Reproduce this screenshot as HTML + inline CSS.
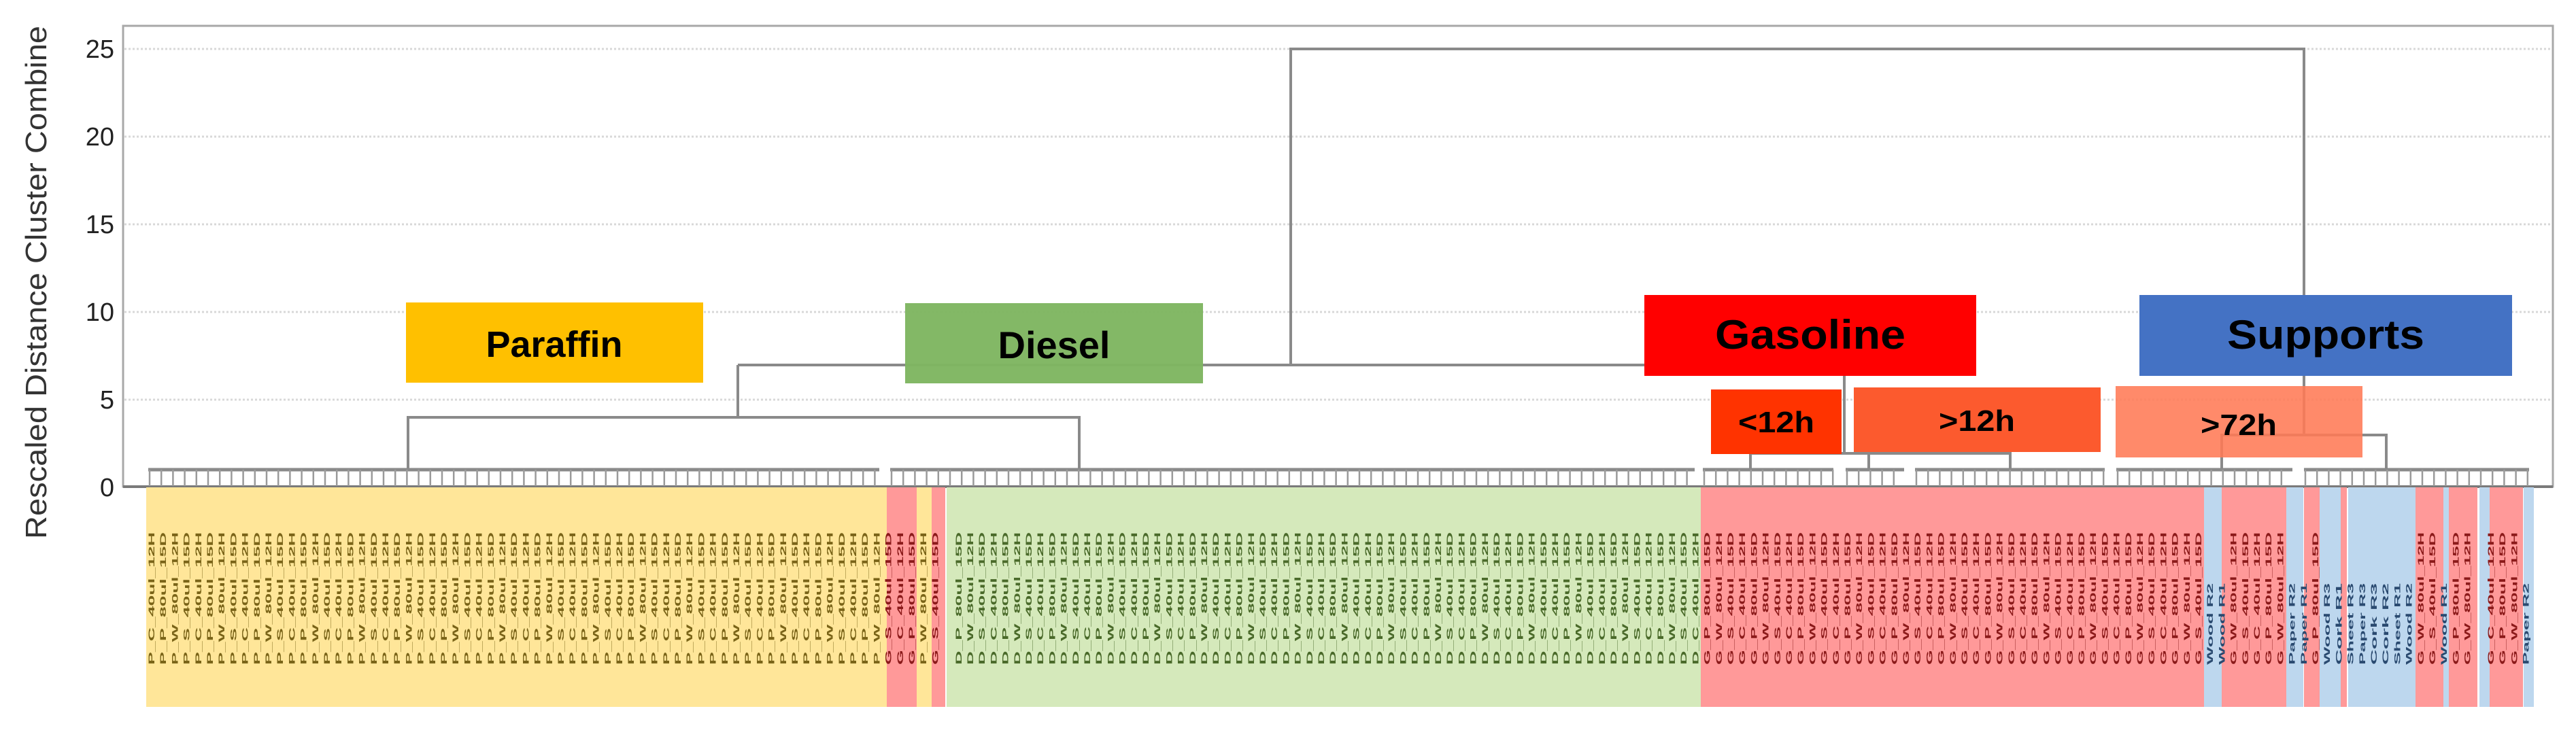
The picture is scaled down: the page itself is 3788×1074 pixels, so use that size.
<!DOCTYPE html>
<html><head><meta charset="utf-8"><style>
html,body{margin:0;padding:0;background:#fff;}
svg{display:block;}
</style></head><body>
<svg id="s" width="3788" height="1074" xmlns="http://www.w3.org/2000/svg" font-family="Liberation Sans, sans-serif">
<rect width="3788" height="1074" fill="#fff"/>
<!-- plot frame -->
<rect x="181" y="38" width="3573" height="678" fill="none" stroke="#a8a8a8" stroke-width="3"/>
<g stroke="#d8d8d8" stroke-width="3" stroke-dasharray="3 3">
<line x1="183" y1="72" x2="3752" y2="72"/>
<line x1="183" y1="201" x2="3752" y2="201"/>
<line x1="183" y1="330" x2="3752" y2="330"/>
<line x1="183" y1="459" x2="3752" y2="459"/>
<line x1="183" y1="588" x2="3752" y2="588"/>
</g>
<line x1="181" y1="716" x2="3754" y2="716" stroke="#7a7a7a" stroke-width="4"/>
<g font-size="38" fill="#222" text-anchor="end">
<text x="168" y="85">25</text>
<text x="168" y="214">20</text>
<text x="168" y="343">15</text>
<text x="168" y="472">10</text>
<text x="168" y="601">5</text>
<text x="168" y="730">0</text>
</g>
<text transform="translate(68,793) rotate(-90)" font-size="44" fill="#333" textLength="755" lengthAdjust="spacingAndGlyphs">Rescaled Distance Cluster Combine</text>

<g id="bands"></g>
<g id="labels"></g>
<g id="comb"></g>

<!-- dendrogram -->
<g stroke="#8a8a8a" stroke-width="4" fill="none">
<polyline points="1898,537 1898,72 3388,72 3388,640"/>
<polyline points="1085,537 2712,537"/>
<polyline points="1085,537 1085,614"/>
<polyline points="600,690 600,614 1587,614 1587,690"/>
<polyline points="2574,690 2574,667 2956,667 2956,690"/>
<line x1="2712" y1="537" x2="2712" y2="667"/>
<line x1="2748" y1="667" x2="2748" y2="690"/>
<polyline points="3267,690 3267,640 3509,640 3509,690"/>
</g>

<!-- category boxes -->
<rect x="597" y="445" width="437" height="118" fill="#ffc000"/>
<text x="815" y="525" font-size="54" font-weight="bold" text-anchor="middle" fill="#000">Paraffin</text>
<rect x="1331" y="446" width="438" height="118" fill="#7fb661" fill-opacity="0.97"/>
<text x="1550" y="527" font-size="56" font-weight="bold" text-anchor="middle" fill="#000">Diesel</text>
<rect x="2418" y="434" width="488" height="119" fill="#ff0000"/>
<text x="2662" y="513" font-size="60" font-weight="bold" text-anchor="middle" fill="#000" textLength="280" lengthAdjust="spacingAndGlyphs">Gasoline</text>
<rect x="3146" y="434" width="548" height="119" fill="#4472c4"/>
<text x="3420" y="513" font-size="60" font-weight="bold" text-anchor="middle" fill="#000" textLength="290" lengthAdjust="spacingAndGlyphs">Supports</text>
<rect x="2516" y="573" width="192" height="95" fill="#ff3300"/>
<text x="2612" y="636" font-size="44" font-weight="bold" text-anchor="middle" fill="#000" textLength="112" lengthAdjust="spacingAndGlyphs">&lt;12h</text>
<rect x="2726" y="570" width="363" height="95" fill="#fc5a2e"/>
<text x="2907" y="634" font-size="44" font-weight="bold" text-anchor="middle" fill="#000" textLength="112" lengthAdjust="spacingAndGlyphs">&gt;12h</text>
<rect x="3111" y="568" width="363" height="105" fill="#ff7a55" fill-opacity="0.88"/>
<text x="3292" y="640" font-size="44" font-weight="bold" text-anchor="middle" fill="#000" textLength="112" lengthAdjust="spacingAndGlyphs">&gt;72h</text>
</svg>
<script>
(function(){
var NS="http://www.w3.org/2000/svg";
function el(p,t,a,txt){var e=document.createElementNS(NS,t);for(var k in a)e.setAttribute(k,a[k]);if(txt)e.textContent=txt;p.appendChild(e);return e;}
var Y="#ffe699",R="#ff9999",G="#d5e9bb",B="#bdd7ee";
var bands=[[215,1304,Y],[1304,1348,R],[1348,1370,Y],[1370,1390,R],[1392,2501,G],[2501,3241,R],[3241,3267,B],[3267,3362,R],[3362,3387,B],[3388,3411,R],[3411,3442,B],[3442,3451,R],[3453,3552,B],[3552,3593,R],[3593,3601,B],[3601,3643,R],[3646,3661,B],[3661,3710,R],[3711,3726,B]];
var bg=document.getElementById("bands");
bands.forEach(function(b){el(bg,"rect",{x:b[0],y:717,width:b[1]-b[0],height:323,fill:b[2]});});
var groups=[[218,1293],[1309,2492],[2504,2696],[2714,2800],[2816,3095],[3112,3371],[3388,3719]];
var cg=document.getElementById("comb");
groups.forEach(function(g){
 el(cg,"line",{x1:g[0],y1:691,x2:g[1],y2:691,stroke:"#8a8a8a","stroke-width":5});
 for(var x=g[0]+2;x<=g[1];x+=17.2){el(cg,"line",{x1:x,y1:691,x2:x,y2:715,stroke:"#9a9a9a","stroke-width":2.5});}
});
var lg=document.getElementById("labels");
var mats=["C","S","W","P"],vols=["40ul","80ul"],times=["12H","24H","72H","6H","1W","15D","21D","1M","2H","3H"];
var sup=["Wood R2","Wood R1","Paper R2","Paper R1","Wood R3","Cork R1","Sheet R3","Paper R3","Cork R3","Cork R2","Sheet R1"];
var si=0;
for(var i=0;i<204;i++){
 var x=222+i*17.2;var col=null;
 bands.forEach(function(b){if(x>=b[0]&&x<b[1])col=b[2];});
 if(!col)continue;
 var pre=col==Y?"P":col==G?"D":"G";
 var fill=col==Y?"#7a6418":col==G?"#4a6a2a":col==R?"#8b1a1a":"#2a4a70";
 var t,len=195;
 if(col==B){t=sup[si++%sup.length];len=120;}
 else t=pre+"_"+mats[(i*7)%4]+"_"+vols[(i*3>>1)%2]+"_"+times[(i*5)%10];
 el(lg,"text",{transform:"translate("+(x+5)+",978) rotate(-90)","font-size":12,"font-weight":"bold",fill:fill,textLength:len,lengthAdjust:"spacingAndGlyphs"},t);
}
})();
</script>
</body></html>
